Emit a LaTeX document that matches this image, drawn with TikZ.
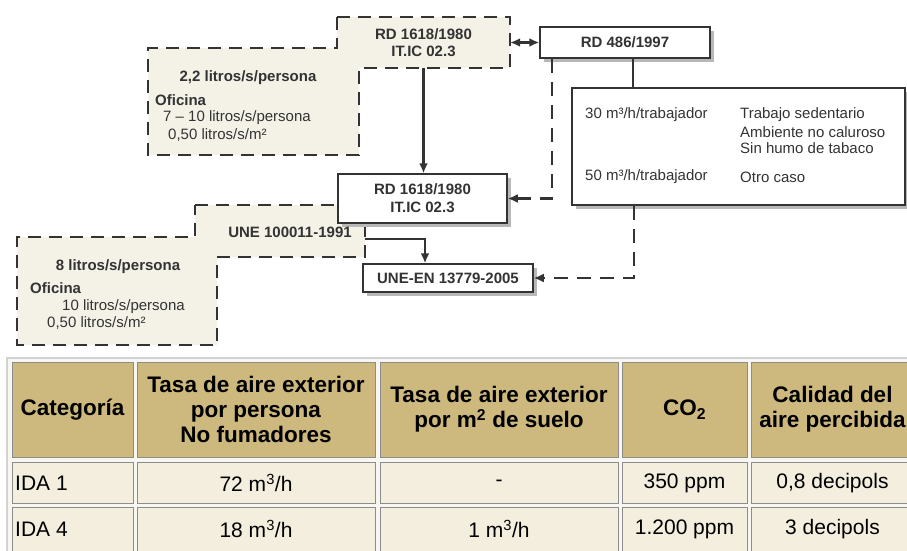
\documentclass[tikz,border=0pt]{standalone}
\usepackage{fontspec}
\setmainfont{Liberation Sans}
\usetikzlibrary{arrows.meta}
\definecolor{tanhead}{HTML}{CDB97D}
\definecolor{creamcell}{HTML}{F3EEDE}
\definecolor{beigefill}{HTML}{F4F1E7}
\definecolor{dgline}{HTML}{333333}
\definecolor{dgtext}{HTML}{333333}
\definecolor{cellline}{HTML}{8C8C8C}
\definecolor{tabborder}{HTML}{D2D2D2}
\definecolor{tabback}{HTML}{F8F6F0}
\definecolor{shadowgray}{HTML}{B8B8B8}
\newcommand\diagbold{\fontsize{15}{17}\selectfont\bfseries}
\newcommand\diagreg{\fontsize{15}{16.5}\selectfont}
\newcommand\tabhead{\fontsize{22.5}{25}\selectfont\bfseries}
\newcommand\tabbody{\fontsize{21}{24}\selectfont}
\begin{document}
\begin{tikzpicture}[x=1pt,y=-1pt,
  dashshape/.style={draw=dgline, line width=2.3pt, dash pattern=on 13pt off 8pt, fill=beigefill, line join=miter},
  shadowbox/.style={fill=shadowgray},
  sbox/.style={draw=dgline, line width=1.5pt, fill=white, font=\diagbold, text=dgtext, align=center, inner sep=0pt},
  txtbox/.style={font=\diagbold, text=dgtext, align=center, inner sep=0pt},
  lbl/.style={font=\diagreg, text=dgtext, inner sep=0pt, anchor=west},
  blbl/.style={font=\diagbold, text=dgtext, inner sep=0pt},
  tipl/.tip={Latex[length=10pt,width=9pt]},
  conn/.style={line width=2.2pt, draw=dgline, -tipl},
  dconn/.style={conn, dash pattern=on 14pt off 9pt},
  hcell/.style={draw=cellline, line width=1pt, fill=tanhead, font=\tabhead, align=center, inner sep=0pt},
  bcell/.style={draw=cellline, line width=1pt, fill=creamcell, font=\tabbody, inner sep=0pt},
  ]
\useasboundingbox (0,0) rectangle (907,551);
\clip (0,0) rectangle (907,551);
\fill[white] (0,0) rectangle (907,551);

% ---------- dashed regions ----------
\draw[dashshape] (337,17) -- (510,17) -- (510,68) -- (359,68) -- (359,155) -- (148,155) -- (148,48) -- (337,48) -- cycle;
\draw[dashshape] (195,205) -- (365,205) -- (365,257) -- (217,257) -- (217,345) -- (17,345) -- (17,237) -- (195,237) -- cycle;

% ---------- shadows of the solid boxes ----------
\fill[shadowbox] (544,31) rectangle (714,62);
\fill[shadowbox] (576,92) rectangle (909,209);
\fill[shadowbox] (342,178) rectangle (511,227);
\fill[shadowbox] (367,268) rectangle (537,296);

% ---------- top RD 1618 (dashed) ----------
\node[txtbox, minimum width=173pt, minimum height=51pt] (rdtop) at (423.5,42.5) {RD 1618/1980\\IT.IC 02.3};
\node[blbl] (t22) at (248,78) {2,2 litros/s/persona};
\node[blbl, anchor=west] (tofi1) at (155,100) {Oficina};
\node[lbl] (t710) at (163,118) {7 -- 10 litros/s/persona};
\node[lbl] (t050a) at (168,135) {0,50 litros/s/m²};

% ---------- RD 486 ----------
\node[sbox, minimum width=170pt, minimum height=31pt] (rd486) at (625,42.5) {RD 486/1997};

% ---------- right info box ----------
\node[sbox, minimum width=333pt, minimum height=117pt] (rdinfo) at (738.5,146.5) {};
\node[lbl] (i30) at (585,115) {30 m³/h/trabajador};
\node[lbl] (i30a) at (740,115) {Trabajo sedentario};
\node[lbl] (i30b) at (740,132) {Ambiente no caluroso};
\node[lbl] (i30c) at (740,148) {Sin humo de tabaco};
\node[lbl] (i50) at (585,177) {50 m³/h/trabajador};
\node[lbl] (i50a) at (740,177) {Otro caso};

% ---------- UNE 100011 (dashed) ----------
\node[blbl] (une100) at (290,232) {UNE 100011-1991};
\coordinate (uneout) at (365,239);
\node[blbl] (t8) at (118,267) {8 litros/s/persona};
\node[blbl, anchor=west] (tofi2) at (30,288) {Oficina};
\node[lbl] (t10) at (62,307) {10 litros/s/persona};
\node[lbl] (t050b) at (47,323) {0,50 litros/s/m²};

% ---------- middle RD 1618 ----------
\node[sbox, minimum width=169pt, minimum height=49pt] (rdmid) at (422.5,198.5) {RD 1618/1980\\[1pt]IT.IC 02.3};

% ---------- UNE-EN ----------
\node[sbox, minimum width=170pt, minimum height=28pt] (unen) at (448,278) {UNE-EN 13779-2005};

% ---------- connectors ----------
\draw[line width=2.2pt, draw=dgline, tipl-tipl] (rdtop.east) -- (rd486.west);
\draw[conn] (rdtop.south) -- (rdtop.south |- rdmid.north);
\draw[line width=2.2pt, draw=dgline] (rd486.south -| 633,0) -- (rdinfo.north -| 633,0);
\draw[dconn] (rd486.south -| 552,0) |- (rdmid.east);
\draw[conn] (uneout) -| ([xshift=-23pt]unen.north);
\draw[dconn] (rdinfo.south -| 634,0) |- (unen.east);

% ---------- table ----------
\draw[draw=tabborder, line width=2pt, fill=tabback] (7,358) rectangle (925,570);
\node[hcell, minimum width=121pt, minimum height=95pt] (h1) at (72.5,409.5) {Categoría};
\node[hcell, minimum width=238pt, minimum height=95pt] (h2) at (256,409.5) {Tasa de aire exterior\\por persona\\No fumadores};
\node[hcell, minimum width=238pt, minimum height=95pt] (h3) at (499,409.5) {Tasa de aire exterior\\por m\textsuperscript{2} de suelo};
\node[hcell, minimum width=125pt, minimum height=95pt] (h4) at (684.5,409.5) {CO\textsubscript{2}};
\node[hcell, minimum width=163pt, minimum height=95pt] (h5) at (832.5,409.5) {Calidad del\\aire percibida};

\node[bcell, minimum width=121pt, minimum height=41pt] (a1) at (72.5,482.5) {};
\node[font=\tabbody, anchor=west, inner sep=0pt] (a1t) at (15,483) {IDA 1};
\node[bcell, minimum width=238pt, minimum height=41pt] (a2) at (256,482.5) {};
\node[font=\tabbody, inner sep=0pt] (a2t) at (256,483) {72 m\textsuperscript{3}/h};
\node[bcell, minimum width=238pt, minimum height=41pt] (a3) at (499,482.5) {};
\node[font=\tabbody, inner sep=0pt] (a3t) at (499,483) {-};
\node[bcell, minimum width=125pt, minimum height=41pt] (a4) at (684.5,482.5) {};
\node[font=\tabbody, inner sep=0pt] (a4t) at (684.5,483) {350 ppm};
\node[bcell, minimum width=163pt, minimum height=41pt] (a5) at (832.5,482.5) {};
\node[font=\tabbody, inner sep=0pt] (a5t) at (832.5,483) {0,8 decipols};

\node[bcell, minimum width=121pt, minimum height=49pt] (b1) at (72.5,531.5) {};
\node[font=\tabbody, anchor=west, inner sep=0pt] (b1t) at (15,529) {IDA 4};
\node[bcell, minimum width=238pt, minimum height=49pt] (b2) at (256,531.5) {};
\node[font=\tabbody, inner sep=0pt] (b2t) at (256,529) {18 m\textsuperscript{3}/h};
\node[bcell, minimum width=238pt, minimum height=49pt] (b3) at (499,531.5) {};
\node[font=\tabbody, inner sep=0pt] (b3t) at (499,529) {1 m\textsuperscript{3}/h};
\node[bcell, minimum width=125pt, minimum height=49pt] (b4) at (684.5,531.5) {};
\node[font=\tabbody, inner sep=0pt] (b4t) at (684.5,529) {1.200 ppm};
\node[bcell, minimum width=163pt, minimum height=49pt] (b5) at (832.5,531.5) {};
\node[font=\tabbody, inner sep=0pt] (b5t) at (832.5,529) {3 decipols};
\end{tikzpicture}
\end{document}
